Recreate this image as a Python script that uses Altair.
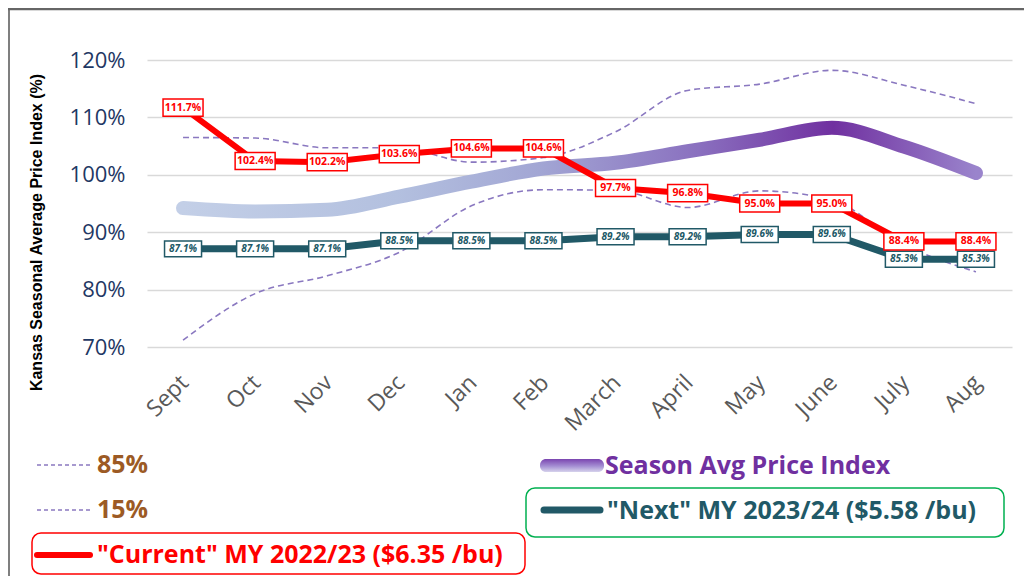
import altair as alt
import pandas as pd

months = ["Sept", "Oct", "Nov", "Dec", "Jan", "Feb", "March", "April", "May", "June", "July", "Aug"]
current = [111.7, 102.4, 102.2, 103.6, 104.6, 104.6, 97.7, 96.8, 95.0, 95.0, 88.4, 88.4]
next_my = [87.1, 87.1, 87.1, 88.5, 88.5, 88.5, 89.2, 89.2, 89.6, 89.6, 85.3, 85.3]
season_avg = [94.2, 93.6, 93.9, 96.2, 98.8, 101.1, 102.1, 104.1, 106.1, 108.2, 104.9, 100.3]
p85 = [106.5, 106.4, 104.7, 104.7, 102.2, 103.0, 107.5, 114.7, 115.8, 118.2, 115.6, 112.4]
p15 = [71.2, 79.3, 82.4, 86.5, 94.6, 97.4, 97.3, 94.3, 97.2, 95.6, 87.8, 83.1]
y_ticks = [70, 80, 90, 100, 110, 120]
legend_labels = ["85%", "15%", "Season Avg Price Index",
                 '"Next" MY 2023/24 ($5.58 /bu)', '"Current" MY 2022/23 ($6.35 /bu)']

df = pd.DataFrame({"month": months, "current": current, "next": next_my,
                   "avg": season_avg, "p85": p85, "p15": p15})
one = pd.DataFrame({"k": [0]})

FONT = "Open Sans"
RED = "#ff0000"
TEAL = "#215967"
DASH = "#8a78c0"

xenc = alt.X("month:N", sort=months, title=None,
             scale=alt.Scale(type="band", paddingInner=0, paddingOuter=0),
             axis=alt.Axis(labelAngle=-45, labelFontSize=23, labelColor="#595959",
                           labelFont=FONT, ticks=False, domain=False, grid=False,
                           labelPadding=24, labelOffset=-6))
yscale = alt.Scale(domain=[70, 120], nice=False, zero=False)
yaxis = alt.Axis(values=y_ticks, labelExpr="datum.value + '%'",
                 labelFontSize=22, labelColor="#1f3864", labelFont=FONT,
                 ticks=False, domain=False, grid=True, gridColor="#d9d9d9",
                 gridWidth=1.5, labelPadding=22,
                 title="Kansas Seasonal Average Price Index (%)",
                 titleFont="Liberation Sans", titleFontSize=16,
                 titleFontWeight="bold", titleColor="#000000",
                 titleAngle=-90, titleX=-111, titleY=172,
                 titleAlign="center", titleBaseline="middle")


def yenc(field):
    return alt.Y(field + ":Q", scale=yscale, axis=yaxis)


base = alt.Chart(df)

p85_line = base.mark_line(color=DASH, strokeWidth=1.6, strokeDash=[6, 4],
                          interpolate="monotone").encode(x=xenc, y=yenc("p85"))
p15_line = base.mark_line(color=DASH, strokeWidth=1.6, strokeDash=[6, 4],
                          interpolate="monotone").encode(x=xenc, y=yenc("p15"))

avg_grad = alt.Gradient(gradient="linear", x1=0, x2=1, y1=0, y2=0, stops=[
    alt.GradientStop(color="#c3cfe7", offset=0),
    alt.GradientStop(color="#b3c0df", offset=0.27),
    alt.GradientStop(color="#a2a6d4", offset=0.45),
    alt.GradientStop(color="#8a70bf", offset=0.65),
    alt.GradientStop(color="#7030a0", offset=0.82),
    alt.GradientStop(color="#9a84cc", offset=1),
])
avg_line = base.mark_line(stroke=avg_grad, strokeWidth=14, strokeCap="round",
                          strokeJoin="round", interpolate="monotone").encode(
    x=xenc, y=yenc("avg"))

next_line = base.mark_line(color=TEAL, strokeWidth=7, strokeJoin="round").encode(
    x=xenc, y=yenc("next"))
cur_line = base.mark_line(color=RED, strokeWidth=6, strokeJoin="round").encode(
    x=xenc, y=yenc("current"))

BOX = "M-1,-0.43 L1,-0.43 L1,0.43 L-1,0.43 Z"
next_box = base.mark_point(shape=BOX, size=1369, filled=True, fill="white",
                           stroke=TEAL, strokeWidth=1.5, opacity=1).encode(
    x=xenc, y=yenc("next"))
next_txt = base.transform_calculate(lab="format(datum.next, '.1f') + '%'").mark_text(
    font=FONT, fontSize=10, fontStyle="italic", fontWeight="bold", color=TEAL).encode(
    x=xenc, y=yenc("next"), text="lab:N")
cur_box = base.mark_point(shape=BOX, size=1600, filled=True, fill="white",
                          stroke=RED, strokeWidth=1.5, opacity=1).encode(
    x=xenc, y=yenc("current"))
cur_txt = base.transform_calculate(lab="format(datum.current, '.1f') + '%'").mark_text(
    font=FONT, fontSize=10.5, fontWeight="bold", color=RED).encode(
    x=xenc, y=yenc("current"), text="lab:N")

# ---- custom legend & frame ----
o = alt.Chart(one)
frame_left = o.mark_rule(color="#7f7f7f", strokeWidth=2).encode(
    x=alt.value(-138), y=alt.value(-52), y2=alt.value(520))
frame_top = o.mark_rule(color="#666666", strokeWidth=2.5).encode(
    x=alt.value(-139), x2=alt.value(880), y=alt.value(-51))

LFS = 25


def ltext(label, x, y, color):
    return o.mark_text(font=FONT, fontSize=LFS, fontWeight="bold", color=color,
                       align="left", baseline="middle").encode(
        x=alt.value(x), y=alt.value(y), text=alt.value(label))


l85_sym = o.mark_rule(color=DASH, strokeWidth=1.5, strokeDash=[4, 3]).encode(
    x=alt.value(-110), x2=alt.value(-57), y=alt.value(405))
l15_sym = o.mark_rule(color=DASH, strokeWidth=1.5, strokeDash=[4, 3]).encode(
    x=alt.value(-110), x2=alt.value(-57), y=alt.value(450))
cur_boxl = o.mark_rect(fill="white", fillOpacity=0, stroke=RED, strokeWidth=1.5,
                       cornerRadius=9).encode(
    x=alt.value(-115), x2=alt.value(378), y=alt.value(473), y2=alt.value(514))
cur_sym = o.mark_rule(color=RED, strokeWidth=6, strokeCap="round").encode(
    x=alt.value(-110), x2=alt.value(-57), y=alt.value(495))
next_boxl = o.mark_rect(fill="white", fillOpacity=0, stroke="#00b050", strokeWidth=1.5,
                        cornerRadius=9).encode(
    x=alt.value(379), x2=alt.value(857), y=alt.value(428), y2=alt.value(477))
next_sym = o.mark_rule(color=TEAL, strokeWidth=7, strokeCap="round").encode(
    x=alt.value(397), x2=alt.value(453), y=alt.value(450))
sym_grad = alt.Gradient(gradient="linear", x1=0, x2=0, y1=0, y2=1, stops=[
    alt.GradientStop(color="#7a45b0", offset=0),
    alt.GradientStop(color="#a58fd3", offset=0.55),
    alt.GradientStop(color="#d6d3ec", offset=1),
])
avg_sym = o.mark_rect(fill=sym_grad, cornerRadius=6).encode(
    x=alt.value(393), x2=alt.value(457), y=alt.value(399), y2=alt.value(412))

legend = [
    l85_sym, ltext(legend_labels[0], -50, 405, "#9c5a24"),
    l15_sym, ltext(legend_labels[1], -50, 450, "#9c5a24"),
    avg_sym, ltext(legend_labels[2], 458, 406, "#7030a0"),
    next_boxl, next_sym, ltext(legend_labels[3], 460, 451, TEAL),
    cur_boxl, cur_sym, ltext(legend_labels[4], -50, 495, RED),
]

chart = alt.layer(
    p85_line, p15_line, avg_line, next_line, cur_line,
    next_box, next_txt, cur_box, cur_txt,
    frame_left, frame_top, *legend
).properties(
    width=865, height=287,
    autosize=alt.AutoSizeParams(type="none"),
    padding={"left": 139, "top": 52, "right": 12, "bottom": 229},
    background="white",
).configure_view(stroke=None)

chart.save("out.html", embed_options={"renderer": "svg", "actions": False})
